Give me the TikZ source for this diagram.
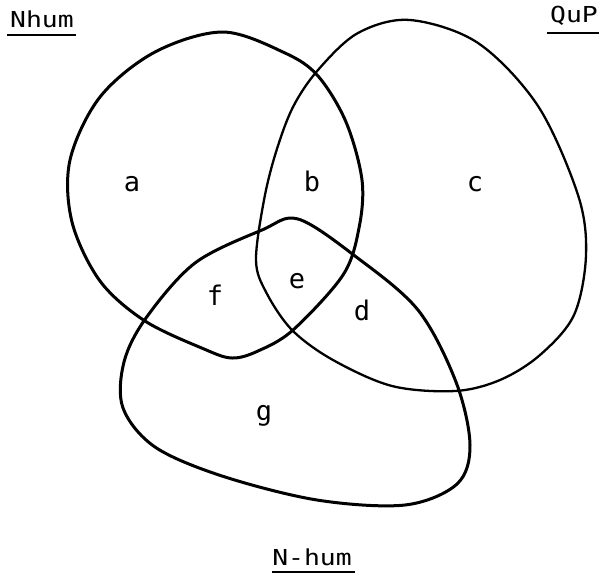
\documentclass[tikz,border=0pt]{standalone}
\usepackage{fontspec}
\newfontfamily\labfont[FakeStretch=1.2]{DejaVu Sans Mono}
\newfontfamily\regfont{DejaVu Sans Mono}
\begin{document}
\begin{tikzpicture}[x=1pt,y=-1pt,
  setline/.style={line width=3pt, line join=round},
  thinset/.style={line width=2.3pt, line join=round},
  title/.style={font=\labfont\fontsize{22}{22}\selectfont, inner sep=0pt, anchor=base},
  region/.style={font=\regfont\fontsize{27}{27}\selectfont, inner sep=0pt, anchor=base},
  uline/.style={line width=2.6pt}]
\useasboundingbox (0,0) rectangle (599,576);
% Nhum
\draw[setline] plot[smooth cycle, tension=0.55] coordinates {
  (223,32) (285,53) (318,76) (346,122) (362,180) (359,228) (343,275)
  (293,330) (258,351) (232,358) (204,349) (145,321) (100,281)
  (72,222) (70,160) (100,97) (155,52)};
% QuP
\draw[thinset] plot[smooth cycle, tension=0.55] coordinates {
  (410,20) (478,43) (538,106) (578,195) (586,255) (574,315) (540,355)
  (500,380) (455,391) (392,386) (333,360) (292,330) (266,292) (256,260) (264,200)
  (276,152) (293,107) (318,70) (358,33)};
% N-hum
\draw[setline] plot[smooth cycle, tension=0.55] coordinates {
  (298,219) (355,256) (418,310) (456,382) (470,445) (457,484) (405,505)
  (317,500) (222,476) (155,447) (123,408) (124,362) (146,318) (195,263)
  (262,230)};
% titles
\node[title] (nhum) at (42,27) {Nhum};
\draw[uline] (7,35) coordinate (u1) -- (76,35) coordinate (u2);
\node[title] (qup) at (574,22) {QuP};
\draw[uline] (547,33) coordinate (q1) -- (600,33) coordinate (q2);
\node[title] (nh) at (312,565) {N-hum};
\draw[uline] (272,572) coordinate (n1) -- (355,572) coordinate (n2);
% regions
\node[region] (a) at (132,191) {a};
\node[region] (b) at (312,191) {b};
\node[region] (c) at (475,191) {c};
\node[region] (e) at (297,288) {e};
\node[region] (f) at (215,305) {f};
\node[region] (d) at (362,320) {d};
\node[region] (g) at (264,420) {g};
\end{tikzpicture}
\end{document}
